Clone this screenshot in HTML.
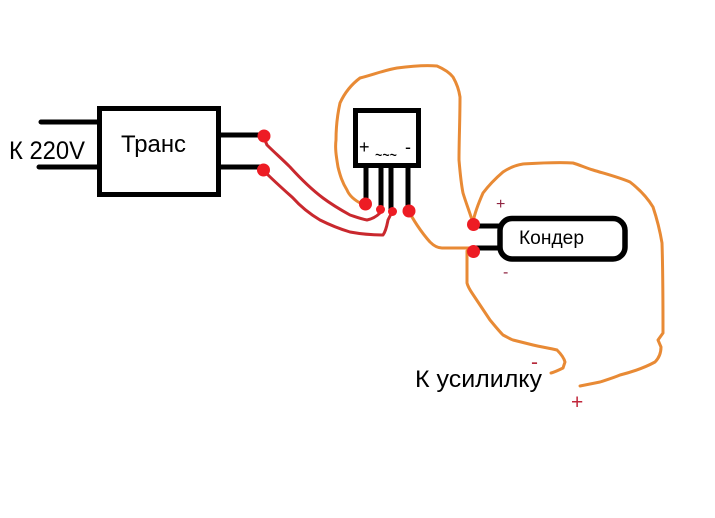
<!DOCTYPE html>
<html><head><meta charset="utf-8"><style>html,body{margin:0;padding:0;background:#fff}svg{display:block}text{font-family:"Liberation Sans","Noto Sans CJK SC",sans-serif}</style></head><body>
<svg width="715" height="518" viewBox="0 0 715 518" xmlns="http://www.w3.org/2000/svg">
<rect width="715" height="518" fill="#fff"/>
<g fill="none" stroke="#000" stroke-linecap="round">
<rect x="99.500" y="108.500" width="119" height="86" stroke-width="5" stroke-linecap="butt"/>
<path d="M41 122H99M39 167H99M220 135H263M220 167H263" stroke-width="5"/>
<rect x="355.500" y="110.500" width="63" height="55" stroke-width="5"/>
<path d="M366 168V204M381 168V209M391 168V210M408 168V211" stroke-width="5" stroke-linecap="butt"/>
<rect x="500" y="218.500" width="125" height="40.500" rx="12" stroke-width="5.500"/>
<path d="M473 226H500M473 248H500" stroke-width="5" stroke-linecap="butt"/>
</g>
<g fill="none" stroke="#e88a35" stroke-width="3" stroke-linecap="round" stroke-linejoin="round">
<path d="M362 204C354 200 349 195 347 190C342 182 340 175 338 167C336 155 335 148 336 140C336 125 338 112 340 103C345 92 352 84 360 78C372 75 385 70 397 68C412 66 425 65 437 66C444 69 449 72 453 77C457 84 459 90 460 97C460 120 459 140 459 160C460 172 461 183 463 193C466 203 470 213 473 223"/>
<path d="M409 211C412 218 421 232 430 242C434 246 438 248 442 248H473"/>
<path d="M467 251V283C468 287 470 290 472 293C478 302 484 311 490 320C495 326 499 331 503 335C507 337 510 339 513 340L533 345C541 347 549 348 557 350C561 354 564 358 565 362L563 368C559 370 555 372 551 373"/>
<path d="M473 222C475 212 479 202 483 193C489 185 496 178 503 172C509 168 516 165 523 164C540 163 556 162 573 163C580 165 586 168 593 170C606 174 618 177 630 182C639 189 647 197 653 207C657 219 660 231 662 243C663 273 663 303 663 333L658 340L661 347C661 354 658 359 655 362C644 368 632 372 620 375C613 378 606 380 600 382L580 386"/>
</g>
<g fill="none" stroke="#c9282e" stroke-width="3" stroke-linecap="round" stroke-linejoin="round">
<path d="M264 138L267 145C274 152 282 159 290 167C300 178 311 189 323 198C331 204 341 210 350 215C356 217 361 219 367 220C372 219 377 216 380 213"/>
<path d="M263 170L265 172C274 181 283 189 293 198C301 207 310 214 320 220C330 225 340 229 350 232C361 234 372 235 383 235C386 231 387 225 388 220L392 212"/>
</g>
<g fill="#ed1c24">
<circle cx="264" cy="136" r="6.500"/><circle cx="263.500" cy="170" r="6.500"/>
<circle cx="365.500" cy="204" r="6.500"/><circle cx="380.500" cy="209.500" r="4.500"/><circle cx="392.500" cy="211.500" r="4.500"/><circle cx="409" cy="211" r="6.500"/>
<circle cx="473.500" cy="224.500" r="6.500"/><circle cx="473.500" cy="251.500" r="6.500"/>
</g>
<text x="9" y="159" font-size="25" textLength="76" lengthAdjust="spacingAndGlyphs" fill="#000">К 220V</text>
<text x="121" y="152" font-size="24" textLength="65" lengthAdjust="spacingAndGlyphs" fill="#000">Транс</text>
<text x="519" y="244" font-size="19" textLength="65" lengthAdjust="spacingAndGlyphs" fill="#000">Кондер</text>
<text x="415" y="387" font-size="24" textLength="127" lengthAdjust="spacingAndGlyphs" fill="#000">К усилилку</text>
<text x="359" y="153" font-size="18" fill="#000">+</text>
<text x="375" y="161" font-size="18" textLength="22" lengthAdjust="spacingAndGlyphs" fill="#000">~~~</text>
<text x="405" y="153" font-size="18" fill="#000">-</text>
<text x="496" y="209" font-size="16" fill="#8f2340">+</text>
<text x="503" y="277" font-size="16" fill="#8f2340">-</text>
<text x="531" y="369" font-size="21" fill="#b5283a">-</text>
<text x="571" y="409" font-size="21" fill="#c0263a">+</text>
</svg>
</body></html>
